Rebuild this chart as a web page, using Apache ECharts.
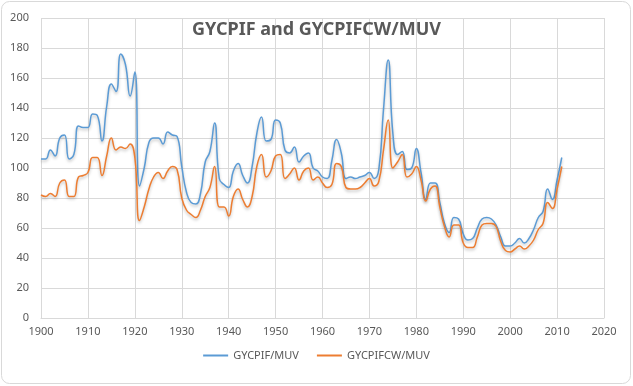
<!DOCTYPE html>
<html>
<head>
<meta charset="utf-8">
<script src="https://cdn.jsdelivr.net/npm/echarts@6/dist/echarts.min.js"></script>
<style>
html,body{margin:0;padding:0;background:#fff;}
#c{width:633px;height:386px;}
</style>
</head>
<body>
<div id="c"></div>
<script>
var years = [];
for (var y = 1900; y <= 2011; y++) years.push(y);

var gycpifMuv = [
106,106,112,108,120,122,106,109,128,127,
127,136,135,118,141,156,151,176,169,148,
164,88,100,117,120,120,116,124,122,121,
101,84,77,76,83,104,111,130,93,89,
87,98,103,95,90,101,123,134,118,119,
132,130,112,110,114,104,108,110,100,98,
94,93,105,119,110,93,94,93,94,95,
97,93,99,139,172,123,109,111,99,100,
113,97,79,90,90,77,63,57,67,66,
56,52,53,60,66,67,66,62,54,48,
48,50,53,50,53,59,67,71,86,79,
92,107
];

var gycpifcwMuv = [
82,81,83,81,90,92,81,81,94,95,
97,107,107,95,108,120,112,114,113,116,
107,65,74,86,94,97,93,98,101,99,
80,72,69,67,72,81,87,101,74,74,
68,81,86,79,74,81,101,109,94,98,
108,109,93,96,100,92,98,100,92,94,
90,87,89,103,101,87,86,86,87,90,
93,88,91,112,132,100,104,109,94,96,
101,92,78,86,88,74,61,54,62,62,
50,47,47,54,62,63,63,61,51,45,
44,46,48,46,48,52,59,63,77,73,
86,101
];

var seriesNames = ['GYCPIF/MUV', 'GYCPIFCW/MUV'];
var titleText = 'GYCPIF and GYCPIFCW/MUV';

function pairs(vals){ return years.map(function(yr,i){ return [yr, vals[i]]; }); }

var font = '"Noto Sans", "Liberation Sans", sans-serif';
var chart = echarts.init(document.getElementById('c'), null, {renderer:'canvas'});
chart.setOption({
  animation:false,
  backgroundColor:'#fff',
  title:{
    text:titleText, left:'center', top:16,
    textStyle:{fontFamily:font, fontSize:18, fontWeight:'bold', color:'#595959'}
  },
  graphic:[{
    type:'rect', shape:{x:1.5,y:1.5,width:629,height:382,r:8},
    style:{fill:'none', stroke:'#d9d9d9', lineWidth:1}, z:-1, silent:true
  }],
  legend:{
    data:seriesNames, bottom:20, left:'center', icon:'rect', itemWidth:25, itemHeight:2, itemGap:18,
    textStyle:{fontFamily:font, fontSize:11, color:'#595959'}
  },
  grid:{left:41, right:29, top:18, bottom:68},
  xAxis:{
    type:'value', min:1900, max:2020, interval:10,
    axisLine:{show:true, lineStyle:{color:'#d9d9d9'}},
    axisTick:{show:false},
    splitLine:{show:true, lineStyle:{color:'#d9d9d9'}},
    axisLabel:{fontFamily:font, fontSize:11, color:'#595959', margin:8,
      formatter:function(v){ return String(v); }}
  },
  yAxis:{
    type:'value', min:0, max:200, interval:20,
    axisLine:{show:false}, axisTick:{show:false},
    splitLine:{show:true, lineStyle:{color:'#d9d9d9'}},
    axisLabel:{fontFamily:font, fontSize:11, color:'#595959', margin:12}
  },
  series:[
    {name:seriesNames[0], type:'line', data:pairs(gycpifMuv), smooth:0.5, showSymbol:false, symbol:'none',
     itemStyle:{color:'#5B9BD5'},
     lineStyle:{color:'#5B9BD5', width:1.5, shadowColor:'rgba(0,0,0,0.25)', shadowBlur:3, shadowOffsetY:2}},
    {name:seriesNames[1], type:'line', data:pairs(gycpifcwMuv), smooth:0.5, showSymbol:false, symbol:'none',
     itemStyle:{color:'#ED7D31'},
     lineStyle:{color:'#ED7D31', width:1.5, shadowColor:'rgba(0,0,0,0.25)', shadowBlur:3, shadowOffsetY:2}}
  ]
});
</script>
</body>
</html>
